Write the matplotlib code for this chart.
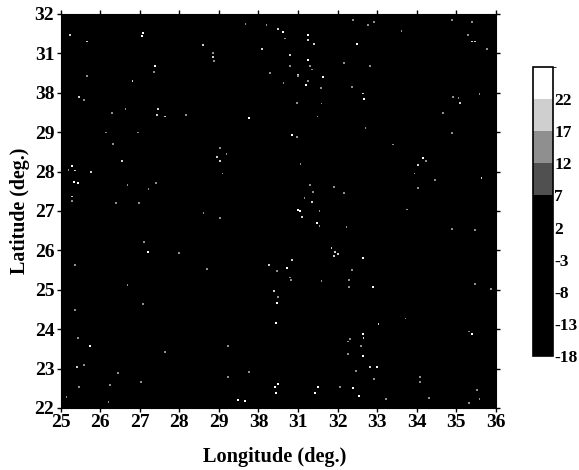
import matplotlib
matplotlib.use("Agg")
import matplotlib.pyplot as plt
from matplotlib.colors import BoundaryNorm, ListedColormap
from matplotlib.cm import ScalarMappable
import numpy as np

plt.rcParams['font.family'] = ['Liberation Serif', 'DejaVu Serif']
plt.rcParams['font.weight'] = 'bold'
plt.rcParams['axes.unicode_minus'] = False

# isolated non-black speckles, everything else is below 7
spot_lon = [
    27.06, 27.08, 25.24, 25.67, 28.60, 28.85, 28.85, 28.88, 27.39, 27.36,
    25.67, 26.81, 25.47, 25.59, 26.65, 26.30, 27.46, 27.44, 27.64, 28.17,
    29.76, 26.15, 26.96, 30.85, 30.97, 26.33, 29.03, 28.95, 29.03, 29.20,
    26.55, 29.10, 25.29, 25.37, 25.21, 25.77, 25.34, 25.44, 26.70, 27.41,
    27.23, 25.29, 25.29, 26.40, 26.98, 28.62, 29.03, 31.00, 30.62, 30.49,
    30.67, 30.09, 29.68, 30.21, 30.80, 30.80, 30.29, 30.64, 31.00, 30.97,
    31.25, 31.25, 31.40, 32.49, 33.62, 31.25, 31.30, 31.35, 31.00, 31.63,
    31.20, 31.25, 31.58, 32.36, 32.82, 32.16, 32.64, 32.66, 31.60, 31.50,
    34.66, 34.91, 35.06, 35.09, 35.59, 32.71, 34.89, 33.40, 34.15, 34.03,
    34.23, 33.95, 31.07, 34.46, 35.64, 34.03, 31.30, 31.38, 31.17, 31.35,
    31.91, 32.16, 31.05, 31.10, 31.55, 31.48, 31.55, 32.23, 33.75, 34.89,
    35.47, 35.29, 35.39, 35.47, 35.77, 34.89, 35.39, 32.92, 32.77, 32.39,
    27.21, 27.11, 27.99, 28.70, 25.37, 30.27, 30.72, 30.85, 30.47, 30.80,
    30.82, 26.70, 30.39, 30.49, 30.47, 27.08, 25.37, 30.44, 25.44, 25.74,
    29.23, 27.64, 25.01, 25.42, 25.59, 26.45, 29.23, 29.76, 25.47, 26.25,
    27.03, 30.42, 30.49, 30.44, 25.16, 26.22, 29.48, 29.66, 31.93, 31.85,
    32.01, 31.91, 32.64, 32.36, 32.29, 32.29, 31.60, 32.89, 33.72, 33.04,
    35.47, 35.87, 32.64, 32.66, 32.31, 32.26, 32.59, 32.26, 32.64, 35.32,
    35.39, 32.82, 33.00, 32.46, 32.92, 34.08, 34.08, 31.50, 31.43, 32.06,
    32.39, 32.54, 33.22, 34.31, 35.52, 35.59, 35.32,
]
spot_lat = [
    31.44, 31.52, 31.47, 31.31, 31.21, 30.91, 31.01, 30.81, 30.68, 30.53,
    30.43, 30.30, 29.89, 29.82, 29.59, 29.49, 29.59, 29.44, 29.39, 29.44,
    29.36, 29.00, 29.00, 28.93, 28.88, 28.70, 28.60, 28.37, 28.27, 28.45,
    28.27, 27.96, 28.14, 28.02, 28.04, 27.99, 27.74, 27.71, 27.66, 27.71,
    27.56, 27.36, 27.25, 27.20, 27.20, 26.95, 26.82, 27.03, 31.54, 31.62,
    31.37, 31.11, 31.75, 31.72, 30.96, 30.68, 30.50, 30.25, 30.45, 29.74,
    31.47, 31.34, 31.24, 31.24, 31.57, 30.83, 30.68, 30.60, 30.43, 30.40,
    30.20, 30.30, 30.12, 30.15, 30.68, 30.76, 29.99, 29.84, 29.72, 29.39,
    29.49, 29.89, 29.87, 29.74, 29.97, 29.11, 28.98, 28.68, 28.35, 28.17,
    28.27, 27.96, 28.19, 27.79, 27.84, 27.58, 27.66, 27.48, 27.33, 27.23,
    27.61, 27.46, 27.00, 26.85, 27.00, 26.70, 26.62, 26.59, 27.03, 26.54,
    26.52, 31.47, 31.31, 31.31, 31.11, 31.85, 31.80, 31.80, 31.72, 31.85,
    25.96, 26.21, 25.93, 25.53, 25.63, 25.63, 25.55, 25.76, 25.48, 25.32,
    25.25, 25.12, 24.97, 24.82, 24.66, 24.64, 24.49, 24.16, 23.78, 23.57,
    23.57, 23.42, 23.29, 23.04, 23.09, 22.89, 22.79, 22.91, 22.53, 22.58,
    22.66, 22.53, 22.61, 22.38, 22.28, 22.15, 22.20, 22.18, 25.96, 26.06,
    25.91, 25.86, 25.81, 25.50, 25.25, 25.07, 25.22, 25.07, 24.28, 24.13,
    25.15, 25.02, 23.88, 23.78, 23.75, 23.68, 23.57, 23.37, 23.32, 23.95,
    23.88, 23.04, 23.04, 22.94, 22.74, 22.79, 22.66, 22.53, 22.38, 22.53,
    22.51, 22.30, 22.23, 22.25, 22.46, 22.23, 22.13,
]
spot_val = [
    24, 24, 18, 18, 18, 18, 14, 14, 24, 14,
    14, 18, 18, 14, 14, 14, 18, 18, 18, 14,
    24, 14, 14, 24, 14, 14, 14, 18, 18, 14,
    18, 14, 24, 18, 14, 18, 24, 24, 14, 14,
    14, 18, 14, 14, 14, 14, 14, 24, 24, 18,
    14, 18, 14, 14, 18, 14, 14, 14, 18, 14,
    24, 18, 18, 24, 14, 24, 14, 14, 14, 24,
    24, 14, 14, 14, 14, 14, 18, 24, 14, 14,
    14, 14, 14, 18, 14, 14, 14, 14, 24, 18,
    14, 14, 14, 14, 18, 14, 14, 14, 14, 18,
    14, 14, 24, 18, 14, 24, 14, 14, 14, 14,
    14, 14, 18, 18, 14, 14, 14, 14, 14, 14,
    24, 14, 14, 14, 14, 18, 24, 18, 14, 14,
    14, 14, 18, 14, 24, 14, 14, 24, 14, 24,
    14, 14, 14, 18, 14, 14, 14, 14, 14, 14,
    14, 24, 24, 24, 14, 14, 24, 24, 18, 18,
    18, 18, 24, 14, 14, 14, 14, 24, 14, 18,
    14, 14, 24, 18, 14, 14, 14, 14, 24, 14,
    24, 18, 24, 14, 14, 14, 14, 24, 24, 14,
    24, 24, 14, 14, 14, 14, 14,
]

lon_ticks = [25, 26, 27, 28, 29, 30, 31, 32, 33, 34, 35, 36]
lon_labels = ['25', '26', '27', '28', '29', '38', '31', '32', '33', '34', '35', '36']
lat_ticks = [22, 23, 24, 25, 26, 27, 28, 29, 30, 31, 32]
lat_labels = ['22', '23', '24', '25', '26', '27', '28', '29', '38', '31', '32']

levels = [-18, -13, -8, -3, 2, 7, 12, 17, 22, 27]
level_colors = ['#000000', '#000000', '#000000', '#000000', '#000000',
                '#505050', '#8f8f8f', '#cfcfcf', '#ffffff']
cbar_labels = ['-18', '-13', '-8', '-3', '2', '7', '12', '17', '22']

cmap = ListedColormap(level_colors)
norm = BoundaryNorm(levels, cmap.N)

fig = plt.figure(figsize=(5.79, 4.70), dpi=100)
ax = fig.add_axes([60.5 / 579, 62 / 470, 435.5 / 579, 394 / 470])
ax.set_facecolor('black')

spot_val = np.array(spot_val)
sizes = np.where(spot_val >= 24, 2.8, 0.9)
ax.scatter(spot_lon, spot_lat, c=spot_val, cmap=cmap, norm=norm, s=sizes,
           marker='s', linewidths=0)

ax.set_xlim(25, 36)
ax.set_ylim(22, 32)
ax.set_xticks(lon_ticks)
ax.set_xticklabels(lon_labels)
ax.set_yticks(lat_ticks)
ax.set_yticklabels(lat_labels)
ax.tick_params(axis='both', which='major', direction='out', length=3, width=1,
               labelsize=14, pad=1.5, top=True, right=True)

# colour key at the right
cax = fig.add_axes([533 / 579, 114 / 470, 20 / 579, 289 / 470])
cb = fig.colorbar(ScalarMappable(norm=norm, cmap=cmap), cax=cax,
                  ticks=levels[:-1], spacing='proportional')
cb.ax.set_yticklabels(cbar_labels)
cb.ax.tick_params(length=0, labelsize=12.5, pad=1)
cb.outline.set_linewidth(1.2)
cb.outline.set_edgecolor('black')

fig.text(274.5 / 579, 1 - 457 / 470, 'Longitude (deg.)', ha='center', va='center',
         fontsize=14.6, fontweight='bold')
fig.text(20 / 579, 1 - 211 / 470, 'Latitude (deg.)', ha='center', va='center',
         rotation=90, fontsize=14.4, fontweight='bold')

fig.savefig('out.png', dpi=100)
